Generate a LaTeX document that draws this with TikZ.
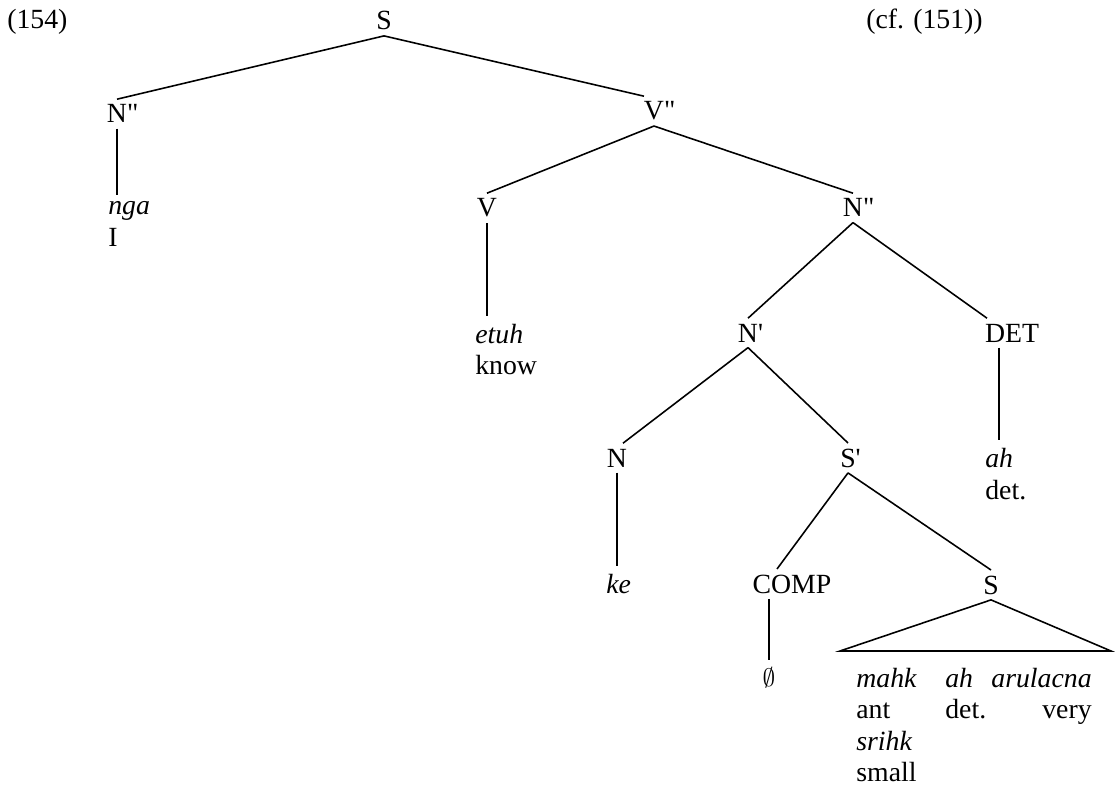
\documentclass[tikz,border=0pt]{standalone}
\usepackage{fontspec}
\setmainfont{Liberation Serif}
\usetikzlibrary{calc}
\tikzset{
  cat/.style={inner sep=3pt, anchor=base, font=\fontsize{15.8}{18}\selectfont},
  gloss/.style={inner xsep=0pt, inner ysep=4pt, anchor=base west, font=\fontsize{15.8}{18}\selectfont},
  branch/.style={line width=0.9pt}
}
\begin{document}
\begin{tikzpicture}[x=0.02cm, y=-0.02cm]
\useasboundingbox (0,0) rectangle (1116,787);

% Example number and reference
\node[gloss] (num) at (7,29) {(154)};
\node[gloss] (cf) at (866,29) {(cf. (151))};

% Top level
\node[cat] (sTop) at (384,30) {S};
\node[cat] (nppSubj) at (117,123) {N\rlap{\textquotedbl}};
\node[cat] (vpp) at (654,120) {V\rlap{\textquotedbl}};
\draw[branch] (sTop.south) -- (nppSubj.north);
\draw[branch] (sTop.south) -- ($(vpp.north)+(-10,0)$);

% Subject
\node[gloss] (nga) at (108,215) {\textit{nga}};
\node[gloss] (ngaGl) at (108,247) {I};
\draw[branch] (nppSubj.south) -- (nppSubj.south |- nga.north);

% Verb phrase
\node[cat] (vHead) at (487,217) {V};
\node[cat] (nppObj) at (853,217) {N\rlap{\textquotedbl}};
\draw[branch] (vpp.south) -- (vHead.north);
\draw[branch] (vpp.south) -- (nppObj.north);
\node[gloss] (etuh) at (475,343) {\textit{etuh}};
\node[gloss] (etuhGl) at (475,375) {know};
\draw[branch] (vHead.south) -- (vHead.south |- etuh.north);

% Object
\node[cat] (nBar) at (748,342) {N\rlap{\textquotesingle}};
\node[cat] (det) at (1012,342) {DET};
\draw[branch] (nppObj.south) -- (nBar.north);
\draw[branch] (nppObj.south) -- ($(det.north)+(-25,0)$);
\node[gloss] (ahDet) at (985,467) {\textit{ah}};
\node[gloss] (ahDetGl) at (985,499) {det.};
\draw[branch] (ahDet.north |- det.south) -- (ahDet.north);

% N-bar
\node[cat] (nHead) at (617,467) {N};
\node[cat] (sBar) at (848,467) {S\rlap{\textquotesingle}};
\draw[branch] (nBar.south) -- ($(nHead.north)+(6,0)$);
\draw[branch] (nBar.south) -- (sBar.north);
\node[gloss] (ke) at (606,593) {\textit{ke}};
\draw[branch] (nHead.south) -- (nHead.south |- ke.north);

% Relative clause
\node[cat] (comp) at (792,593) {COMP};
\node[cat] (sLow) at (991,594) {S};
\draw[branch] (sBar.south) -- ($(comp.north)+(-15,0)$);
\draw[branch] (sBar.south) -- (sLow.north);
\node[gloss, anchor=base] (null) at (769,686) {$\emptyset$};
\draw[branch] (null |- comp.south) -- (null.north);

% Triangle over the clause
\coordinate (triL) at (840,651);
\coordinate (triR) at (1111,651);
\draw[branch] (triL) -- (sLow.south) -- (triR) -- cycle;
\node[gloss] (mahk) at (856,687) {\textit{mahk}};
\node[gloss] (ahS) at (945,687) {\textit{ah}};
\node[gloss, anchor=base east] (arul) at (1092,687) {\textit{arulacna}};
\node[gloss] (ant) at (856,718) {ant};
\node[gloss] (detS) at (945,718) {det.};
\node[gloss, anchor=base east] (very) at (1092,718) {very};
\node[gloss] (srihk) at (856,750) {\textit{srihk}};
\node[gloss] (small) at (856,781) {small};
\end{tikzpicture}
\end{document}
